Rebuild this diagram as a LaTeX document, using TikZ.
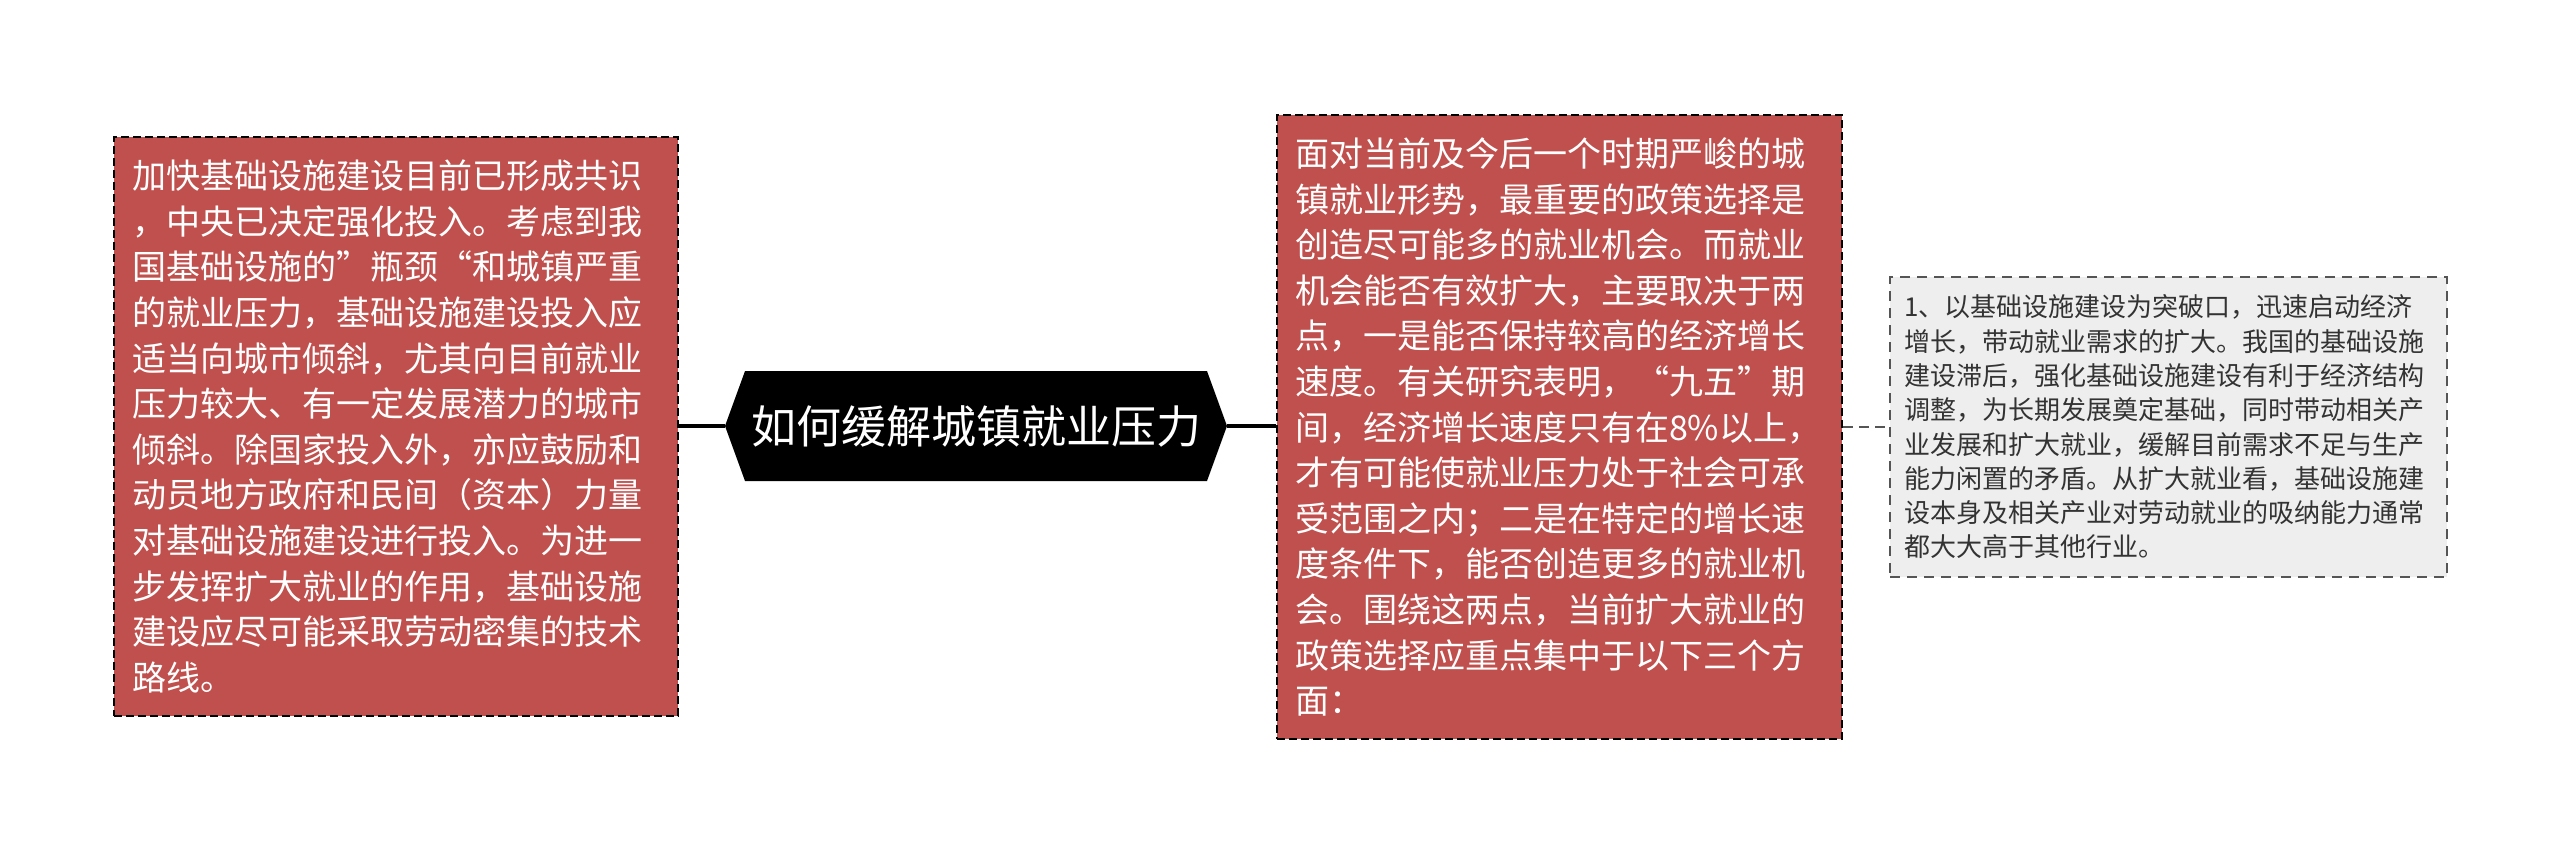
\documentclass[tikz,border=0pt]{standalone}
\usepackage{fontspec}
\newfontfamily\cjk{Noto Sans CJK SC}
\usetikzlibrary{shapes.symbols}
\definecolor{boxred}{RGB}{192,80,77}
\definecolor{boxgray}{RGB}{238,238,238}
\definecolor{txtgray}{RGB}{51,51,51}
\definecolor{lingray}{RGB}{85,85,85}
\tikzset{
  redbox/.style={draw=black, line width=2pt, dash pattern=on 8pt off 4pt, fill=boxred,
    text=white, align=left, inner xsep=18pt, inner ysep=0pt, anchor=north west,
    font=\cjk\fontsize{34pt}{45.6pt}\selectfont},
  graybox/.style={draw=lingray, line width=2pt, dash pattern=on 10pt off 7pt, fill=boxgray,
    text=txtgray, align=left, inner xsep=14pt, inner ysep=0pt, anchor=north west,
    font=\cjk\fontsize{26pt}{34.3pt}\selectfont},
  hubbox/.style={shape=signal, signal to=west and east, signal pointer angle=140,
    fill=black, text=white, inner sep=0pt, minimum width=502pt, minimum height=110pt,
    font=\cjk\fontsize{45pt}{54pt}\selectfont},
  conn/.style={draw=black, line width=4pt},
  dconn/.style={draw=lingray, line width=2.5pt, dash pattern=on 10pt off 6pt}
}
\begin{document}
\begin{tikzpicture}[x=1pt,y=-1pt]
\useasboundingbox (0,0) rectangle (2560,852);
\fill[white] (0,0) rectangle (2560,852);
\node[redbox, text width=528pt, minimum height=579pt] (leftbox) at (113,136) {%
加快基础设施建设目前已形成共识\\
，中央已决定强化投入。考虑到我\\
国基础设施的”瓶颈“和城镇严重\\
的就业压力，基础设施建设投入应\\
适当向城市倾斜，尤其向目前就业\\
压力较大、有一定发展潜力的城市\\
倾斜。除国家投入外，亦应鼓励和\\
动员地方政府和民间（资本）力量\\
对基础设施建设进行投入。为进一\\
步发挥扩大就业的作用，基础设施\\
建设应尽可能采取劳动密集的技术\\
路线。};
\node[redbox, text width=529pt, minimum height=624pt] (rightbox) at (1276,114) {%
面对当前及今后一个时期严峻的城\\
镇就业形势，最重要的政策选择是\\
创造尽可能多的就业机会。而就业\\
机会能否有效扩大，主要取决于两\\
点，一是能否保持较高的经济增长\\
速度。有关研究表明，“九五”期\\
间，经济增长速度只有在8\%以上，\\
才有可能使就业压力处于社会可承\\
受范围之内；二是在特定的增长速\\
度条件下，能否创造更多的就业机\\
会。围绕这两点，当前扩大就业的\\
政策选择应重点集中于以下三个方\\
面：};
\node[graybox, text width=529pt, minimum height=300pt] (smallbox) at (1889,276) {%
1、以基础设施建设为突破口，迅速启动经济\\
增长，带动就业需求的扩大。我国的基础设施\\
建设滞后，强化基础设施建设有利于经济结构\\
调整，为长期发展奠定基础，同时带动相关产\\
业发展和扩大就业，缓解目前需求不足与生产\\
能力闲置的矛盾。从扩大就业看，基础设施建\\
设本身及相关产业对劳动就业的吸纳能力通常\\
都大大高于其他行业。};
\node[hubbox] (hub) at (976,426) {如何缓解城镇就业压力};
\draw[conn] (leftbox.east |- hub.west) -- (hub.west);
\draw[conn] (hub.east) -- (rightbox.west |- hub.east);
\draw[dconn] (rightbox.east |- smallbox.west) -- (smallbox.west);
\end{tikzpicture}
\end{document}
